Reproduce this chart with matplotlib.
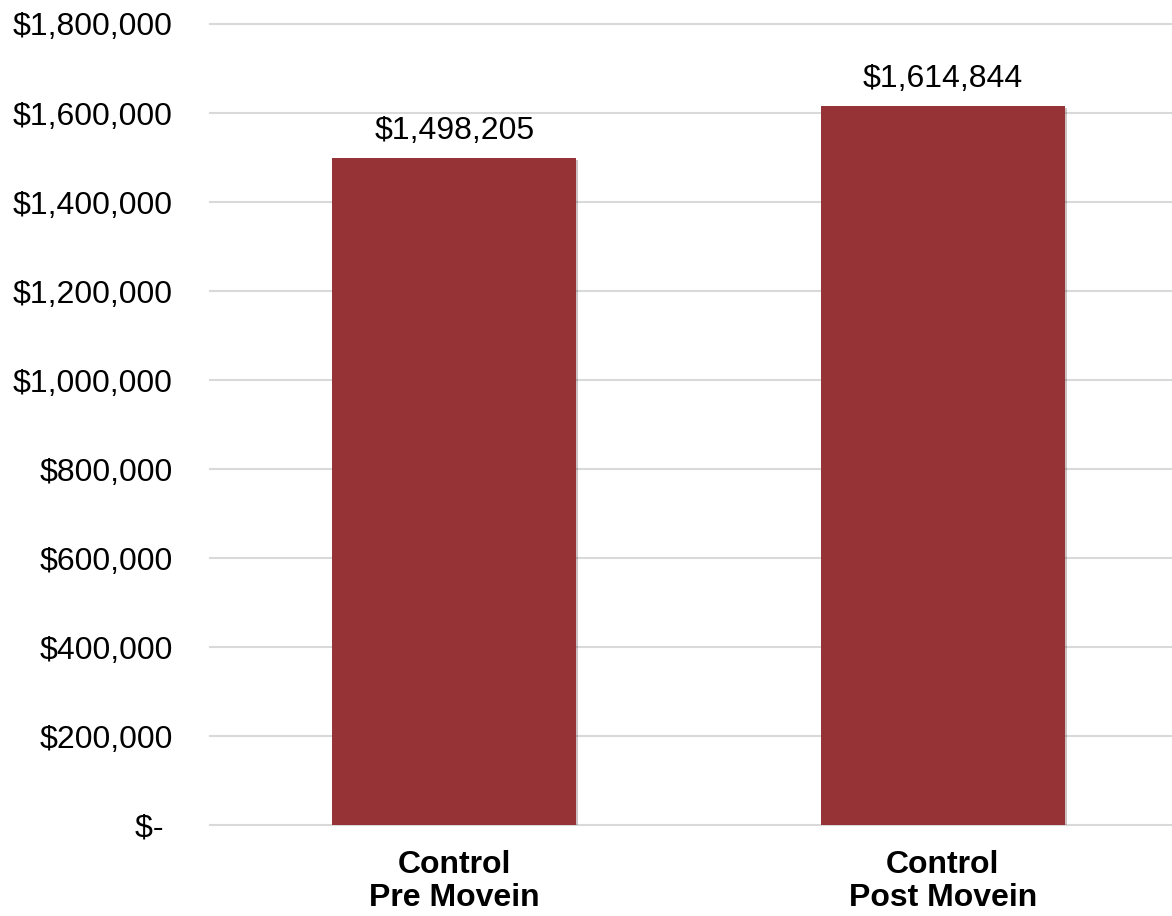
import matplotlib
matplotlib.use("Agg")
import matplotlib.pyplot as plt
from matplotlib.ticker import FuncFormatter
import matplotlib.patheffects as pe
import numpy as np

# Chart data
categories = ["Control\nPre Movein", "Control\nPost Movein"]
values = [1498205, 1614844]
yticks = [0, 200000, 400000, 600000, 800000, 1000000, 1200000, 1400000, 1600000, 1800000]

bar_color = "#963336"
grid_color = "#d9d9d9"

plt.rcParams["font.family"] = ["Liberation Sans", "DejaVu Sans"]

fig = plt.figure(figsize=(11.72, 9.16), dpi=100)
ax = fig.add_axes([0.1792, 0.0993, 0.8336, 0.8745])

x = np.arange(len(categories))
bars = ax.bar(x, values, width=0.5, color=bar_color, zorder=3,
              path_effects=[pe.SimplePatchShadow(offset=(1.5, -1.5), alpha=0.25), pe.Normal()])

# Data labels
for xi, v in zip(x, values):
    ax.annotate(f"${v:,.0f}", (xi, v), xytext=(0, 9), textcoords="offset points",
                ha="center", va="bottom", fontsize=23, color="black")

# Axes styling
ax.set_xlim(-0.5, 1.5)
ax.set_ylim(0, 1800000)
ax.set_yticks(yticks)

def money(v, pos):
    if v == 0:
        return "$- "
    return f"${v:,.0f}"

ax.yaxis.set_major_formatter(FuncFormatter(money))
ax.set_xticks(x)
ax.set_xticklabels(categories, fontsize=23, fontweight="bold", linespacing=1.12)
ax.tick_params(axis="y", length=0, pad=27, labelsize=23)
ax.tick_params(axis="x", length=0, pad=18)

for y in yticks:
    ax.axhline(y, color=grid_color, linewidth=1.5, zorder=1, clip_on=False)

for s in ax.spines.values():
    s.set_visible(False)

fig.savefig("out.png", dpi=100)
